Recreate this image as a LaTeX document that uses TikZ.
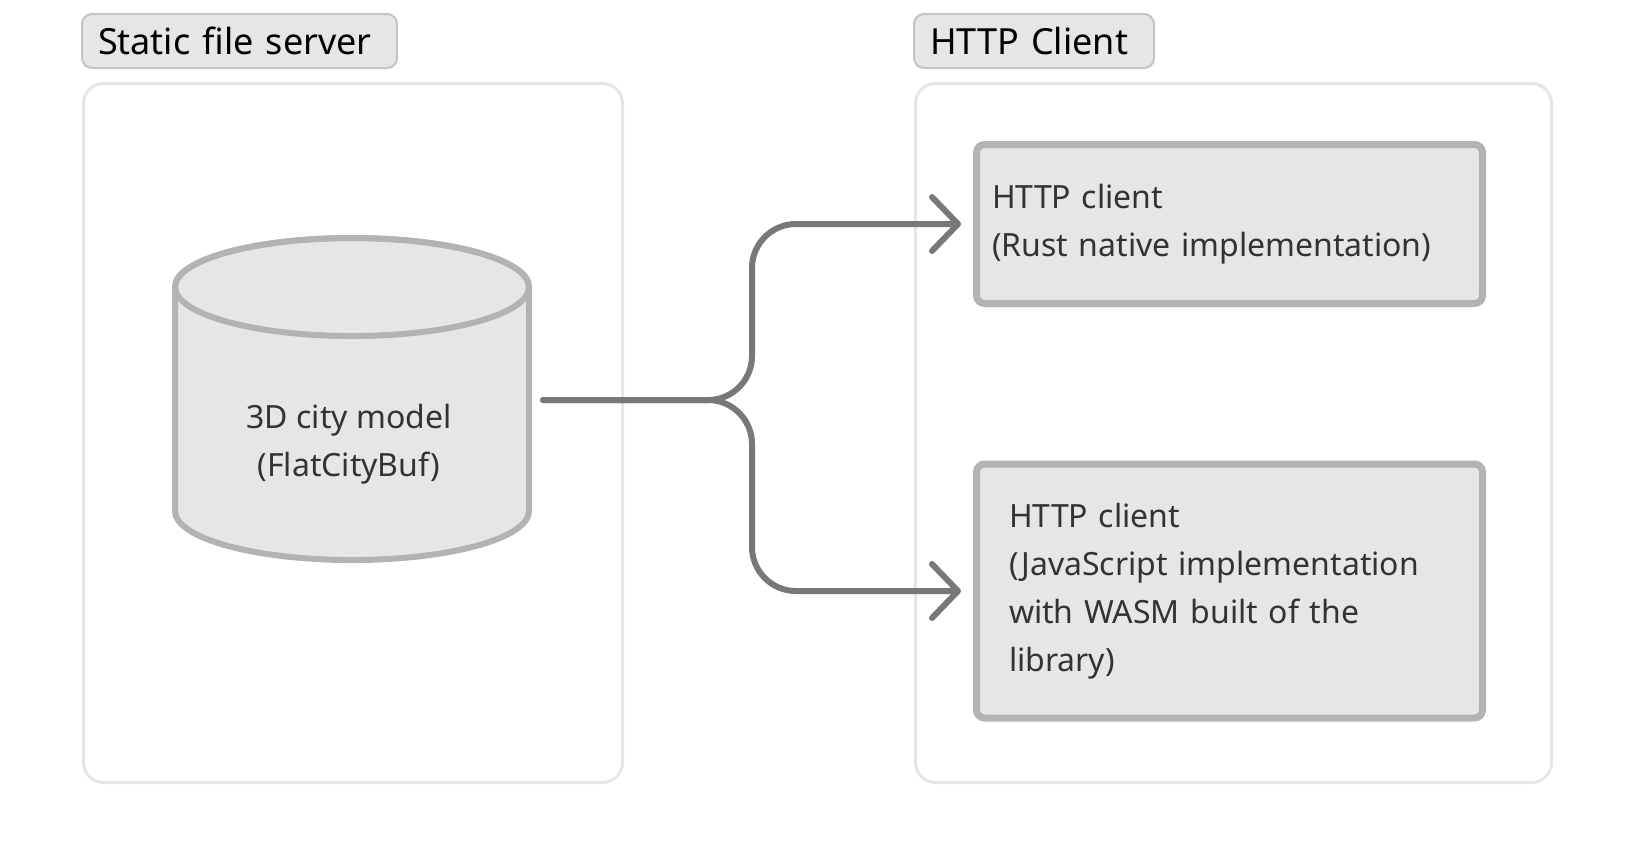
\documentclass[tikz,border=0pt]{standalone}
\usepackage{fontspec}
\setmainfont{Noto Sans}
\usetikzlibrary{arrows.meta}

\definecolor{boxfill}{HTML}{E6E6E6}
\definecolor{boxline}{HTML}{B3B3B3}
\definecolor{frameline}{HTML}{E6E6E6}
\definecolor{tagline}{HTML}{C4C4C4}
\definecolor{linkline}{HTML}{787878}
\definecolor{bodytext}{HTML}{333333}

\tikzset{
  tag/.style={draw=tagline,line width=1pt,fill=boxfill,rounded corners=5pt,
    anchor=north west,minimum height=27pt,inner xsep=8pt,align=left,
    font=\fontsize{18pt}{22pt}\selectfont,text=black},
  frame/.style={draw=frameline,line width=1.5pt,rounded corners=10pt,anchor=north west},
  client/.style={draw=boxline,line width=3.5pt,fill=boxfill,rounded corners=4pt,
    minimum width=253pt,align=left,text=bodytext,
    font=\fontsize{16pt}{24pt}\selectfont},
  link/.style={draw=linkline,line width=3pt,line cap=round,rounded corners=22pt,
    -{Straight Barb[round,length=13pt,width=27pt]}}
}

\begin{document}
\begin{tikzpicture}[x=0.5pt,y=-0.5pt]
  \useasboundingbox (0,0) rectangle (1632,864);

  \node[tag,text width=141.5pt] (servertag) at (81,13) {Static file server};
  \node[tag,text width=104pt] (clienttag) at (913,13) {HTTP Client};

  \node[frame,minimum width=269.5pt,minimum height=349.5pt] (server) at (82,82) {};
  \node[frame,minimum width=318pt,minimum height=349.5pt] (clients) at (914,82) {};

  % database cylinder
  \filldraw[draw=boxline,fill=boxfill,line width=3pt]
    (175,287) -- (175,511) arc[start angle=180,end angle=360,x radius=88.5pt,y radius=24.5pt]
    -- (529,287) arc[start angle=0,end angle=180,x radius=88.5pt,y radius=24.5pt] -- cycle;
  \draw[draw=boxline,line width=3pt] (352,287) ellipse[x radius=88.5pt,y radius=24.5pt];
  \node[align=center,text=bodytext,font=\fontsize{16pt}{24pt}\selectfont] (db) at (349,444)
    {3D city model\\(FlatCityBuf)};

  \node[client,minimum height=79.5pt,text width=237.5pt] (rust) at (1229.5,224)
    {HTTP client\\(Rust native implementation)};
  \node[client,minimum height=127pt,text width=220.5pt] (wasm) at (1229.5,591)
    {HTTP client\\(JavaScript implementation\\with WASM built of the\\library)};

  \coordinate (out) at (543,400);
  \coordinate (fork) at (752,400);
  \draw[link] (out) -- (fork) |- ([xshift=-6pt]rust.west);
  \draw[link] (out) -- (fork) |- ([xshift=-6pt]wasm.west);
\end{tikzpicture}
\end{document}
